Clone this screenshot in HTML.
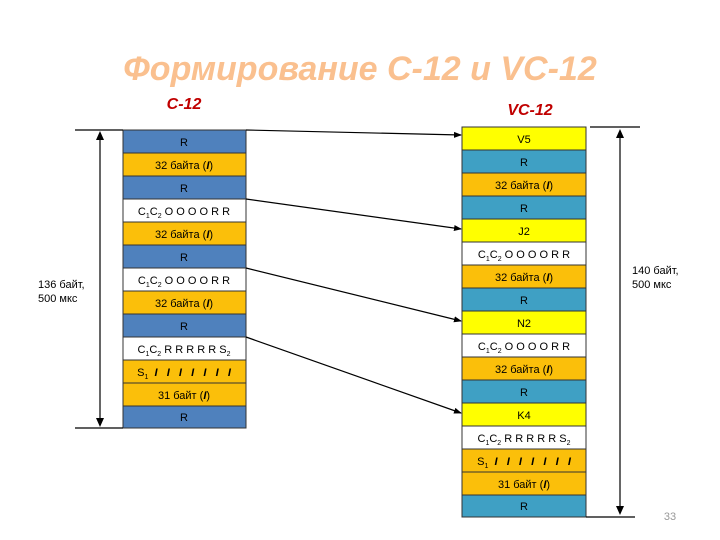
<!DOCTYPE html>
<html><head><meta charset="utf-8"><style>
html,body{margin:0;padding:0;background:#fff;}
svg{display:block;font-family:"Liberation Sans",sans-serif;}
</style></head><body>
<svg width="720" height="540" viewBox="0 0 720 540" xmlns="http://www.w3.org/2000/svg">
<defs><marker id="a" markerWidth="8" markerHeight="8" refX="7" refY="4" orient="auto" markerUnits="userSpaceOnUse"><path d="M0,1 L8,4 L0,7z" fill="#000"/></marker></defs>
<text x="360" y="80" text-anchor="middle" font-size="34" font-weight="bold" font-style="italic" fill="#fac08f">Формирование С-12 и VC-12</text>
<text x="184" y="109" text-anchor="middle" font-size="16" font-weight="bold" font-style="italic" fill="#c00000">С-12</text>
<text x="530" y="115" text-anchor="middle" font-size="16" font-weight="bold" font-style="italic" fill="#c00000">VC-12</text>
<g font-size="11" text-anchor="middle" stroke="#333" stroke-width="1">
<rect x="123" y="130" width="123" height="23" fill="#4f81bd"/>
<rect x="123" y="153" width="123" height="23" fill="#fbbf0a"/>
<rect x="123" y="176" width="123" height="23" fill="#4f81bd"/>
<rect x="123" y="199" width="123" height="23" fill="#fff"/>
<rect x="123" y="222" width="123" height="23" fill="#fbbf0a"/>
<rect x="123" y="245" width="123" height="23" fill="#4f81bd"/>
<rect x="123" y="268" width="123" height="23" fill="#fff"/>
<rect x="123" y="291" width="123" height="23" fill="#fbbf0a"/>
<rect x="123" y="314" width="123" height="23" fill="#4f81bd"/>
<rect x="123" y="337" width="123" height="23" fill="#fff"/>
<rect x="123" y="360" width="123" height="23" fill="#fbbf0a"/>
<rect x="123" y="383" width="123" height="23" fill="#fbbf0a"/>
<rect x="123" y="406" width="123" height="22" fill="#4f81bd"/>
<rect x="462" y="127" width="124" height="23" fill="#ffff00"/>
<rect x="462" y="150" width="124" height="23" fill="#3fa0c4"/>
<rect x="462" y="173" width="124" height="23" fill="#fbbf0a"/>
<rect x="462" y="196" width="124" height="23" fill="#3fa0c4"/>
<rect x="462" y="219" width="124" height="23" fill="#ffff00"/>
<rect x="462" y="242" width="124" height="23" fill="#fff"/>
<rect x="462" y="265" width="124" height="23" fill="#fbbf0a"/>
<rect x="462" y="288" width="124" height="23" fill="#3fa0c4"/>
<rect x="462" y="311" width="124" height="23" fill="#ffff00"/>
<rect x="462" y="334" width="124" height="23" fill="#fff"/>
<rect x="462" y="357" width="124" height="23" fill="#fbbf0a"/>
<rect x="462" y="380" width="124" height="23" fill="#3fa0c4"/>
<rect x="462" y="403" width="124" height="23" fill="#ffff00"/>
<rect x="462" y="426" width="124" height="23" fill="#fff"/>
<rect x="462" y="449" width="124" height="23" fill="#fbbf0a"/>
<rect x="462" y="472" width="124" height="23" fill="#fbbf0a"/>
<rect x="462" y="495" width="124" height="22" fill="#3fa0c4"/>
</g>
<g font-size="11" text-anchor="middle" fill="#000">
<text x="184" y="146">R</text>
<text x="184" y="169">32 байта (<tspan font-weight="bold" font-style="italic">I</tspan>)</text>
<text x="184" y="192">R</text>
<text x="184" y="215">C<tspan font-size="7" dy="3">1</tspan><tspan dy="-3">C</tspan><tspan font-size="7" dy="3">2</tspan><tspan dy="-3"> O O O O R R</tspan></text>
<text x="184" y="238">32 байта (<tspan font-weight="bold" font-style="italic">I</tspan>)</text>
<text x="184" y="261">R</text>
<text x="184" y="284">C<tspan font-size="7" dy="3">1</tspan><tspan dy="-3">C</tspan><tspan font-size="7" dy="3">2</tspan><tspan dy="-3"> O O O O R R</tspan></text>
<text x="184" y="307">32 байта (<tspan font-weight="bold" font-style="italic">I</tspan>)</text>
<text x="184" y="330">R</text>
<text x="184" y="353">C<tspan font-size="7" dy="3">1</tspan><tspan dy="-3">C</tspan><tspan font-size="7" dy="3">2</tspan><tspan dy="-3"> R R R R R S</tspan><tspan font-size="7" dy="3">2</tspan></text>
<text x="184" y="376">S<tspan font-size="7" dy="3">1</tspan><tspan dy="-3" font-weight="bold" font-style="italic">&#160;&#160;I&#160;&#160;&#160;I&#160;&#160;&#160;I&#160;&#160;&#160;I&#160;&#160;&#160;I&#160;&#160;&#160;I&#160;&#160;&#160;I</tspan></text>
<text x="184" y="399">31 байт (<tspan font-weight="bold" font-style="italic">I</tspan>)</text>
<text x="184" y="421">R</text>
<text x="524" y="143">V5</text>
<text x="524" y="166">R</text>
<text x="524" y="189">32 байта (<tspan font-weight="bold" font-style="italic">I</tspan>)</text>
<text x="524" y="212">R</text>
<text x="524" y="235">J2</text>
<text x="524" y="258">C<tspan font-size="7" dy="3">1</tspan><tspan dy="-3">C</tspan><tspan font-size="7" dy="3">2</tspan><tspan dy="-3"> O O O O R R</tspan></text>
<text x="524" y="281">32 байта (<tspan font-weight="bold" font-style="italic">I</tspan>)</text>
<text x="524" y="304">R</text>
<text x="524" y="327">N2</text>
<text x="524" y="350">C<tspan font-size="7" dy="3">1</tspan><tspan dy="-3">C</tspan><tspan font-size="7" dy="3">2</tspan><tspan dy="-3"> O O O O R R</tspan></text>
<text x="524" y="373">32 байта (<tspan font-weight="bold" font-style="italic">I</tspan>)</text>
<text x="524" y="396">R</text>
<text x="524" y="419">K4</text>
<text x="524" y="442">C<tspan font-size="7" dy="3">1</tspan><tspan dy="-3">C</tspan><tspan font-size="7" dy="3">2</tspan><tspan dy="-3"> R R R R R S</tspan><tspan font-size="7" dy="3">2</tspan></text>
<text x="524" y="465">S<tspan font-size="7" dy="3">1</tspan><tspan dy="-3" font-weight="bold" font-style="italic">&#160;&#160;I&#160;&#160;&#160;I&#160;&#160;&#160;I&#160;&#160;&#160;I&#160;&#160;&#160;I&#160;&#160;&#160;I&#160;&#160;&#160;I</tspan></text>
<text x="524" y="488">31 байт (<tspan font-weight="bold" font-style="italic">I</tspan>)</text>
<text x="524" y="510">R</text>
</g>
<g stroke="#000" stroke-width="1.2" fill="none">
<line x1="75" y1="130" x2="123" y2="130"/>
<line x1="75" y1="428" x2="123" y2="428"/>
<line x1="100" y1="136" x2="100" y2="422"/>
<line x1="590" y1="127" x2="640" y2="127"/>
<line x1="586" y1="517" x2="635" y2="517"/>
<line x1="620" y1="132" x2="620" y2="512"/>
<line x1="246" y1="130" x2="461" y2="135" marker-end="url(#a)"/>
<line x1="246" y1="199" x2="461" y2="229" marker-end="url(#a)"/>
<line x1="246" y1="268" x2="461" y2="321" marker-end="url(#a)"/>
<line x1="246" y1="337" x2="461" y2="413" marker-end="url(#a)"/>
</g>
<path d="M616,138 L620,129 L624,138z M616,506 L620,515 L624,506z" fill="#000"/>
<path d="M96,140 L100,131 L104,140z M96,418 L100,427 L104,418z" fill="#000"/>
<g font-size="11" fill="#000">
<text x="38" y="288">136 байт,</text>
<text x="38" y="302">500  мкс</text>
<text x="632" y="274">140 байт,</text>
<text x="632" y="288">500  мкс</text>
</g>
<text x="670" y="520" font-size="11" fill="#999" text-anchor="middle">33</text>
</svg>
</body></html>
